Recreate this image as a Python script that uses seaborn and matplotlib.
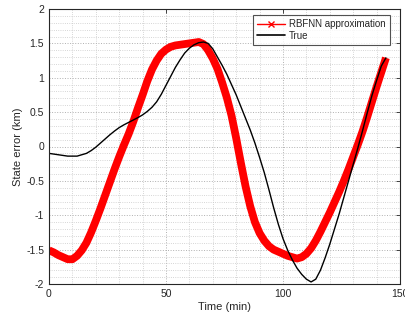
import numpy as np
import pandas as pd
import matplotlib
matplotlib.use("Agg")
import matplotlib.pyplot as plt
from matplotlib.lines import Line2D
from matplotlib.ticker import MultipleLocator
import seaborn as sns

time_min = [0, 2, 4, 6, 8, 10, 12, 14, 16, 18, 20, 22, 24, 26, 28, 30, 32, 34, 36, 38,
            40, 42, 44, 46, 48, 50, 52, 54, 56, 58, 60, 62, 64, 66, 68, 70, 72, 74, 76, 78,
            80, 82, 84, 86, 88, 90, 92, 94, 96, 98, 100, 102, 104, 106, 108, 110, 112, 114,
            116, 118, 120, 122, 124, 126, 128, 130, 132, 134, 136, 138, 140, 142, 144]

rbfnn = [-1.51, -1.54, -1.58, -1.61, -1.64, -1.64, -1.59, -1.51, -1.40, -1.25,
         -1.08, -0.90, -0.71, -0.52, -0.33, -0.15, 0.02, 0.18, 0.36, 0.56,
         0.75, 0.95, 1.12, 1.25, 1.35, 1.41, 1.45, 1.47, 1.48, 1.49,
         1.50, 1.51, 1.52, 1.49, 1.40, 1.28, 1.13, 0.93, 0.71, 0.45,
         0.12, -0.24, -0.58, -0.87, -1.10, -1.26, -1.37, -1.45, -1.50, -1.53,
         -1.56, -1.59, -1.61, -1.63, -1.61, -1.56, -1.48, -1.37,
         -1.24, -1.10, -0.96, -0.81, -0.66, -0.50, -0.33, -0.15, 0.03, 0.22,
         0.43, 0.65, 0.87, 1.08, 1.29]

true_err = [-0.10, -0.11, -0.12, -0.13, -0.14, -0.14, -0.14, -0.12, -0.10, -0.06,
            -0.01, 0.05, 0.11, 0.17, 0.225, 0.275, 0.315, 0.35, 0.385, 0.42,
            0.46, 0.51, 0.57, 0.65, 0.76, 0.89, 1.02, 1.15, 1.26, 1.36,
            1.43, 1.48, 1.51, 1.52, 1.50, 1.42, 1.30, 1.18, 1.05, 0.90,
            0.75, 0.58, 0.41, 0.24, 0.05, -0.16, -0.38, -0.63, -0.89, -1.13,
            -1.34, -1.51, -1.65, -1.77, -1.86, -1.93, -1.97, -1.93,
            -1.80, -1.62, -1.42, -1.20, -0.98, -0.74, -0.50, -0.26, -0.02, 0.23,
            0.49, 0.74, 0.96, 1.17, 1.29]

series_labels = ["RBFNN approximation", "True"]

df = pd.DataFrame({"t": time_min, "rbf": rbfnn, "true": true_err})

sns.set_style("white")
plt.rcParams['font.family'] = ['Liberation Sans', 'DejaVu Sans']
plt.rcParams['axes.unicode_minus'] = False

fig = plt.figure(figsize=(4.06, 3.22), dpi=100)
ax = fig.add_axes([49/406, 38/322, 351/406, 275/322])

sns.lineplot(data=df, x="t", y="rbf", ax=ax, color="red", lw=5.6,
             legend=False, sort=False, solid_capstyle="butt", solid_joinstyle="round")
sns.lineplot(data=df, x="t", y="true", ax=ax, color="black", lw=1.0,
             legend=False, sort=False)

ax.set_xlim(0, 150)
ax.set_ylim(-2, 2)
ax.xaxis.set_major_locator(MultipleLocator(50))
ax.xaxis.set_minor_locator(MultipleLocator(10))
ax.yaxis.set_major_locator(MultipleLocator(0.5))
ax.yaxis.set_minor_locator(MultipleLocator(0.1))
ax.yaxis.set_major_formatter(matplotlib.ticker.FuncFormatter(lambda v, p: f"{v:g}"))

ax.grid(which="major", linestyle=":", color="#b0b0b0", lw=0.7)
ax.grid(which="minor", linestyle=":", color="#c8c8c8", lw=0.6)
ax.set_axisbelow(True)

ax.tick_params(which="both", direction="in", top=True, right=True,
               labelsize=7.5, colors="#262626", length=3, width=0.6)
ax.tick_params(which="minor", length=0)
for s in ax.spines.values():
    s.set_color("#262626")
    s.set_linewidth(0.8)

ax.set_xlabel("Time (min)", fontsize=8, color="#262626", labelpad=2)
ax.set_ylabel("State error (km)", fontsize=8, color="#262626", labelpad=2)

handles = [Line2D([], [], color="red", lw=1, marker="x", ms=4, mew=1),
           Line2D([], [], color="black", lw=1.2)]
leg = ax.legend(handles, series_labels, loc="upper right", fontsize=7,
                bbox_to_anchor=(0.9715, 0.978), borderaxespad=0,
                frameon=True, fancybox=False, edgecolor="#262626",
                handlelength=2.9, handletextpad=0.4,
                labelspacing=0.15, borderpad=0.45)
leg.get_frame().set_linewidth(0.8)

fig.savefig("out.png", dpi=100)
